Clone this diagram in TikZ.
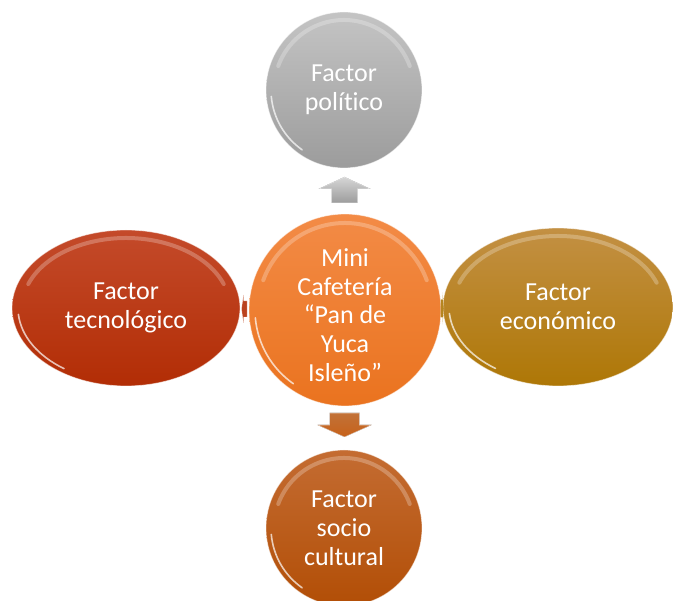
\documentclass[tikz,border=0pt]{standalone}
\usepackage{fontspec}
\setmainfont{Carlito}[Ligatures=NoCommon]
\usetikzlibrary{shapes.geometric,calc}
\definecolor{greyA}{HTML}{C4C4C4}
\definecolor{greyB}{HTML}{9C9C9C}
\definecolor{orA}{HTML}{F38B46}
\definecolor{orB}{HTML}{EA731F}
\definecolor{redA}{HTML}{C44A2A}
\definecolor{redB}{HTML}{B22D05}
\definecolor{goldA}{HTML}{C39043}
\definecolor{goldB}{HTML}{AE7706}
\definecolor{brA}{HTML}{C46C32}
\definecolor{brB}{HTML}{B24E06}
\tikzset{
  lbl/.style={text=white, font=\fontsize{26}{28.8}\selectfont, align=center, inner sep=0pt},
  bubble/.style={circle, minimum size=#1, lbl},
  oval/.style 2 args={ellipse, minimum width=#1, minimum height=#2, lbl},
  rim/.style={draw=white, draw opacity=0.55, line width=0.8pt},
  gloss/.style={white, opacity=0.25, line width=4pt, line cap=round},
  spec/.style={white, opacity=0.7, line width=1.6pt, line cap=round},
}
\begin{document}
\begin{tikzpicture}[x=1pt,y=-1pt]
\useasboundingbox (0,0) rectangle (673,601);
% nodes
\node[bubble=156pt, top color=greyA, bottom color=greyB, rim] (t) at (344,90) {Factor\\político};
\node[oval={228pt}{156pt}, top color=redA, bottom color=redB, rim] (l) at (126,308) {Factor\\tecnológico};
\node[oval={230pt}{158pt}, top color=goldA, bottom color=goldB, rim] (r) at (558,307) {Factor\\económico};
\node[bubble=156pt, top color=brA, bottom color=brB, rim] (b) at (344,528) {Factor\\socio\\cultural};
\node[bubble=192pt, top color=orA, bottom color=orB, rim] (c) at (345,310) {};
\node[lbl, anchor=center] (ct) at ($(c.center)+(0,5)$) {Mini\\Cafetería\\“Pan de\\Yuca\\Isleño”};
% gloss highlights
\draw[gloss] ($(t.center)+(-160:70)$) arc[start angle=-160, end angle=-20, radius=70];
\draw[spec] ($(t.center)+(125:73)$) arc[start angle=125, end angle=175, radius=73];
\draw[gloss] ($(b.center)+(-160:70)$) arc[start angle=-160, end angle=-20, radius=70];
\draw[spec] ($(b.center)+(125:73)$) arc[start angle=125, end angle=175, radius=73];
\draw[gloss] ($(c.center)+(-160:87)$) arc[start angle=-160, end angle=-20, radius=87];
\draw[spec] ($(c.center)+(125:90)$) arc[start angle=125, end angle=175, radius=90];
\draw[gloss] ($(l.center)+({-160}:{104 and 70})$) arc[start angle=-160, end angle=-20, x radius=104, y radius=70];
\draw[spec] ($(l.center)+({125}:{108 and 74})$) arc[start angle=125, end angle=175, x radius=108, y radius=74];
\draw[gloss] ($(r.center)+({-160}:{105 and 71})$) arc[start angle=-160, end angle=-20, x radius=105, y radius=71];
\draw[spec] ($(r.center)+({125}:{109 and 75})$) arc[start angle=125, end angle=175, x radius=109, y radius=75];
% block arrows
\coordinate (au) at ($(c.north)!0.5!(t.south)$);
\coordinate (ad) at ($(c.south)!0.5!(b.north)$);
\coordinate (al) at ($(l.east)!0.5!(c.west)$);
\coordinate (ar) at ($(c.east)!0.5!(r.west)$);
\begin{scope}[shift={(au)}]
  \fill[top color=greyA!70!white, bottom color=greyB, draw=white, draw opacity=0.6, line width=0.6pt]
    (0,-14) -- (26,-2) -- (13,-2) -- (13,12) -- (-13,12) -- (-13,-2) -- (-26,-2) -- cycle;
\end{scope}
\begin{scope}[shift={(ad)}]
  \fill[top color=brB!80!white, bottom color=orB!85!black, draw=white, draw opacity=0.6, line width=0.6pt]
    (-15,-15) -- (15,-15) -- (15,-3) -- (27,-3) -- (0,9) -- (-27,-3) -- (-15,-3) -- cycle;
\end{scope}
\begin{scope}[shift={(al)}]
  \fill[redB!90!white, draw=white, draw opacity=0.5, line width=0.4pt]
    (-3,0) -- (-1,-14) -- (-1,-8) -- (2.5,-8) -- (2.5,8) -- (-1,8) -- (-1,14) -- cycle;
\end{scope}
\begin{scope}[shift={(ar)}]
  \fill[goldB!90!white, draw=white, draw opacity=0.5, line width=0.4pt]
    (2,0) -- (0.5,-16) -- (0.5,-9) -- (-1.5,-9) -- (-1.5,9) -- (0.5,9) -- (0.5,16) -- cycle;
\end{scope}
\end{tikzpicture}
\end{document}
